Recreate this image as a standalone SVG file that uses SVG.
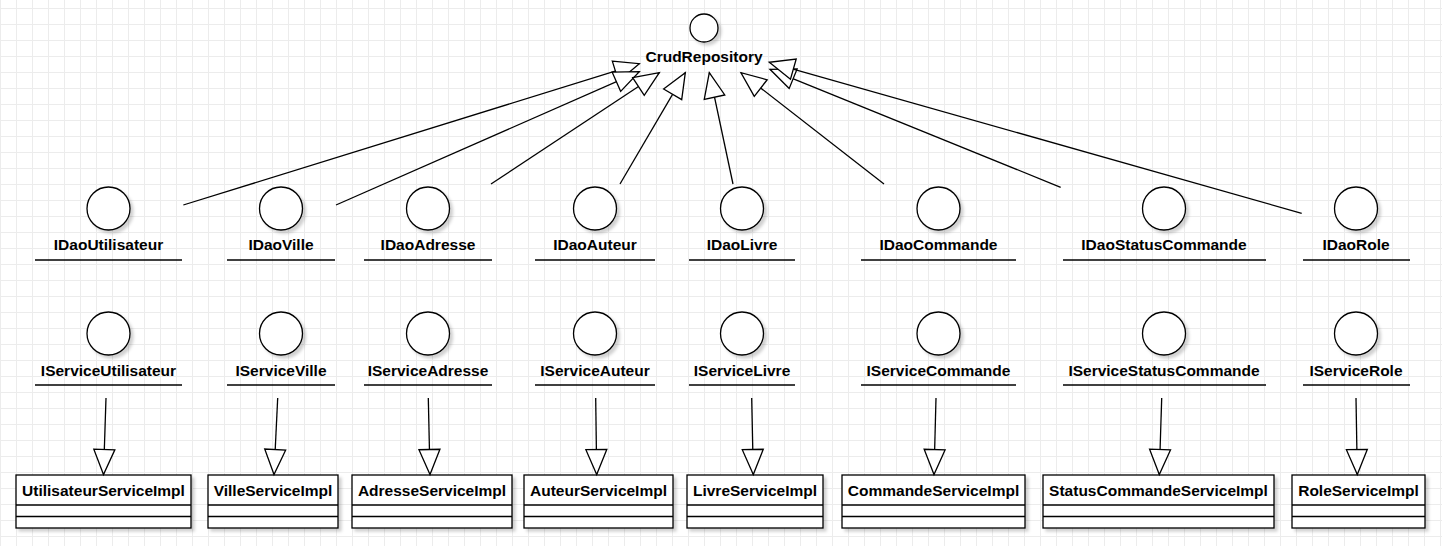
<svg xmlns="http://www.w3.org/2000/svg" width="1442" height="546" viewBox="0 0 1442 546">
<defs>
<pattern id="grid" x="0" y="8" width="16" height="16" patternUnits="userSpaceOnUse">
<rect width="16" height="16" fill="#ffffff"/>
<rect width="16" height="1" fill="#ececec"/>
<rect width="1" height="16" fill="#ececec"/>
</pattern>
<filter id="sh" x="-20%" y="-20%" width="150%" height="150%">
<feDropShadow dx="3" dy="3" stdDeviation="1.5" flood-color="#000" flood-opacity="0.18"/>
</filter>
<marker id="tri" markerUnits="userSpaceOnUse" viewBox="-2 -12 29 24" refX="25" refY="0" markerWidth="29" markerHeight="24" orient="auto" overflow="visible">
<path d="M0,-10.5 L25,0 L0,10.5 Z" fill="#ffffff" stroke="#000000" stroke-width="1.3" stroke-linejoin="miter"/>
</marker>
</defs>
<style>
text{font-family:"Liberation Sans",Arial,sans-serif;font-size:15.5px;font-weight:bold;fill:#000;text-anchor:middle}
.c{fill:#fff;stroke:#000;stroke-width:1.3;filter:url(#sh)}
.u{stroke:#000;stroke-width:1.3;fill:none}
.b{fill:#fff;stroke:#000;stroke-width:1.3;filter:url(#sh)}
.d{stroke:#000;stroke-width:1.3}
.e{stroke:#000;stroke-width:1.3;fill:none;marker-end:url(#tri)}
</style>
<rect width="1442" height="546" fill="url(#grid)"/>

<g id="CrudRepository">
<circle class="c" cx="704" cy="28" r="14"/>
<text x="704" y="62">CrudRepository</text>
</g>

<g id="IDaoUtilisateur"><circle class="c" cx="108.5" cy="208.5" r="21.5"/><text x="108.5" y="250">IDaoUtilisateur</text><line class="u" x1="35" y1="260" x2="182" y2="260"/></g>
<g id="IDaoVille"><circle class="c" cx="281" cy="208.5" r="21.5"/><text x="281" y="250">IDaoVille</text><line class="u" x1="227" y1="260" x2="335" y2="260"/></g>
<g id="IDaoAdresse"><circle class="c" cx="428" cy="208.5" r="21.5"/><text x="428" y="250">IDaoAdresse</text><line class="u" x1="364" y1="260" x2="492" y2="260"/></g>
<g id="IDaoAuteur"><circle class="c" cx="595" cy="208.5" r="21.5"/><text x="595" y="250">IDaoAuteur</text><line class="u" x1="535" y1="260" x2="655" y2="260"/></g>
<g id="IDaoLivre"><circle class="c" cx="742" cy="208.5" r="21.5"/><text x="742" y="250">IDaoLivre</text><line class="u" x1="689" y1="260" x2="795" y2="260"/></g>
<g id="IDaoCommande"><circle class="c" cx="938.5" cy="208.5" r="21.5"/><text x="938.5" y="250">IDaoCommande</text><line class="u" x1="861" y1="260" x2="1016" y2="260"/></g>
<g id="IDaoStatusCommande"><circle class="c" cx="1164" cy="208.5" r="21.5"/><text x="1164" y="250">IDaoStatusCommande</text><line class="u" x1="1063" y1="260" x2="1266" y2="260"/></g>
<g id="IDaoRole"><circle class="c" cx="1356" cy="208.5" r="21.5"/><text x="1356" y="250">IDaoRole</text><line class="u" x1="1303" y1="260" x2="1410" y2="260"/></g>

<g id="IServiceUtilisateur"><circle class="c" cx="108.5" cy="333.5" r="21.5"/><text x="108.5" y="376">IServiceUtilisateur</text><line class="u" x1="35" y1="385" x2="182" y2="385"/></g>
<g id="IServiceVille"><circle class="c" cx="281" cy="333.5" r="21.5"/><text x="281" y="376">IServiceVille</text><line class="u" x1="227" y1="385" x2="335" y2="385"/></g>
<g id="IServiceAdresse"><circle class="c" cx="428" cy="333.5" r="21.5"/><text x="428" y="376">IServiceAdresse</text><line class="u" x1="364" y1="385" x2="492" y2="385"/></g>
<g id="IServiceAuteur"><circle class="c" cx="595" cy="333.5" r="21.5"/><text x="595" y="376">IServiceAuteur</text><line class="u" x1="535" y1="385" x2="655" y2="385"/></g>
<g id="IServiceLivre"><circle class="c" cx="742" cy="333.5" r="21.5"/><text x="742" y="376">IServiceLivre</text><line class="u" x1="689" y1="385" x2="795" y2="385"/></g>
<g id="IServiceCommande"><circle class="c" cx="938.5" cy="333.5" r="21.5"/><text x="938.5" y="376">IServiceCommande</text><line class="u" x1="861" y1="385" x2="1016" y2="385"/></g>
<g id="IServiceStatusCommande"><circle class="c" cx="1164" cy="333.5" r="21.5"/><text x="1164" y="376">IServiceStatusCommande</text><line class="u" x1="1063" y1="385" x2="1266" y2="385"/></g>
<g id="IServiceRole"><circle class="c" cx="1356" cy="333.5" r="21.5"/><text x="1356" y="376">IServiceRole</text><line class="u" x1="1303" y1="385" x2="1410" y2="385"/></g>

<g id="UtilisateurServiceImpl"><rect class="b" x="16" y="475" width="175" height="53"/><text x="103.5" y="496">UtilisateurServiceImpl</text><line class="d" x1="16" y1="505" x2="191" y2="505"/><line class="d" x1="16" y1="516.5" x2="191" y2="516.5"/></g>
<g id="VilleServiceImpl"><rect class="b" x="208" y="475" width="130" height="53"/><text x="273" y="496">VilleServiceImpl</text><line class="d" x1="208" y1="505" x2="338" y2="505"/><line class="d" x1="208" y1="516.5" x2="338" y2="516.5"/></g>
<g id="AdresseServiceImpl"><rect class="b" x="352" y="475" width="160" height="53"/><text x="432" y="496">AdresseServiceImpl</text><line class="d" x1="352" y1="505" x2="512" y2="505"/><line class="d" x1="352" y1="516.5" x2="512" y2="516.5"/></g>
<g id="AuteurServiceImpl"><rect class="b" x="524" y="475" width="149" height="53"/><text x="598.5" y="496">AuteurServiceImpl</text><line class="d" x1="524" y1="505" x2="673" y2="505"/><line class="d" x1="524" y1="516.5" x2="673" y2="516.5"/></g>
<g id="LivreServiceImpl"><rect class="b" x="687" y="475" width="136" height="53"/><text x="755" y="496">LivreServiceImpl</text><line class="d" x1="687" y1="505" x2="823" y2="505"/><line class="d" x1="687" y1="516.5" x2="823" y2="516.5"/></g>
<g id="CommandeServiceImpl"><rect class="b" x="842" y="475" width="183" height="53"/><text x="933.5" y="496">CommandeServiceImpl</text><line class="d" x1="842" y1="505" x2="1025" y2="505"/><line class="d" x1="842" y1="516.5" x2="1025" y2="516.5"/></g>
<g id="StatusCommandeServiceImpl"><rect class="b" x="1043" y="475" width="231" height="53"/><text x="1158.5" y="496">StatusCommandeServiceImpl</text><line class="d" x1="1043" y1="505" x2="1274" y2="505"/><line class="d" x1="1043" y1="516.5" x2="1274" y2="516.5"/></g>
<g id="RoleServiceImpl"><rect class="b" x="1292" y="475" width="133" height="53"/><text x="1358.5" y="496">RoleServiceImpl</text><line class="d" x1="1292" y1="505" x2="1425" y2="505"/><line class="d" x1="1292" y1="516.5" x2="1425" y2="516.5"/></g>

<g id="connectors">
<line class="e" x1="183.3" y1="205" x2="639.3" y2="63.7"/>
<line class="e" x1="336" y1="205" x2="639.3" y2="71.7"/>
<line class="e" x1="491" y1="184" x2="659.3" y2="72.7"/>
<line class="e" x1="620" y1="184" x2="685.3" y2="72.7"/>
<line class="e" x1="733" y1="184" x2="709.3" y2="72.7"/>
<line class="e" x1="884" y1="184" x2="741" y2="72.7"/>
<line class="e" x1="1060.7" y1="187.3" x2="770" y2="69.3"/>
<line class="e" x1="1301.7" y1="213.3" x2="769.3" y2="62.3"/>
<line class="e" x1="106" y1="398" x2="103.5" y2="474.5"/>
<line class="e" x1="277.7" y1="398" x2="274" y2="474.5"/>
<line class="e" x1="428.3" y1="398" x2="430" y2="474.5"/>
<line class="e" x1="595.7" y1="398" x2="596.7" y2="474.5"/>
<line class="e" x1="751.7" y1="398" x2="753.3" y2="474.5"/>
<line class="e" x1="936" y1="398" x2="934" y2="474.5"/>
<line class="e" x1="1161.7" y1="398" x2="1159.3" y2="474.5"/>
<line class="e" x1="1356" y1="398" x2="1357.3" y2="474.5"/>
</g>
</svg>
